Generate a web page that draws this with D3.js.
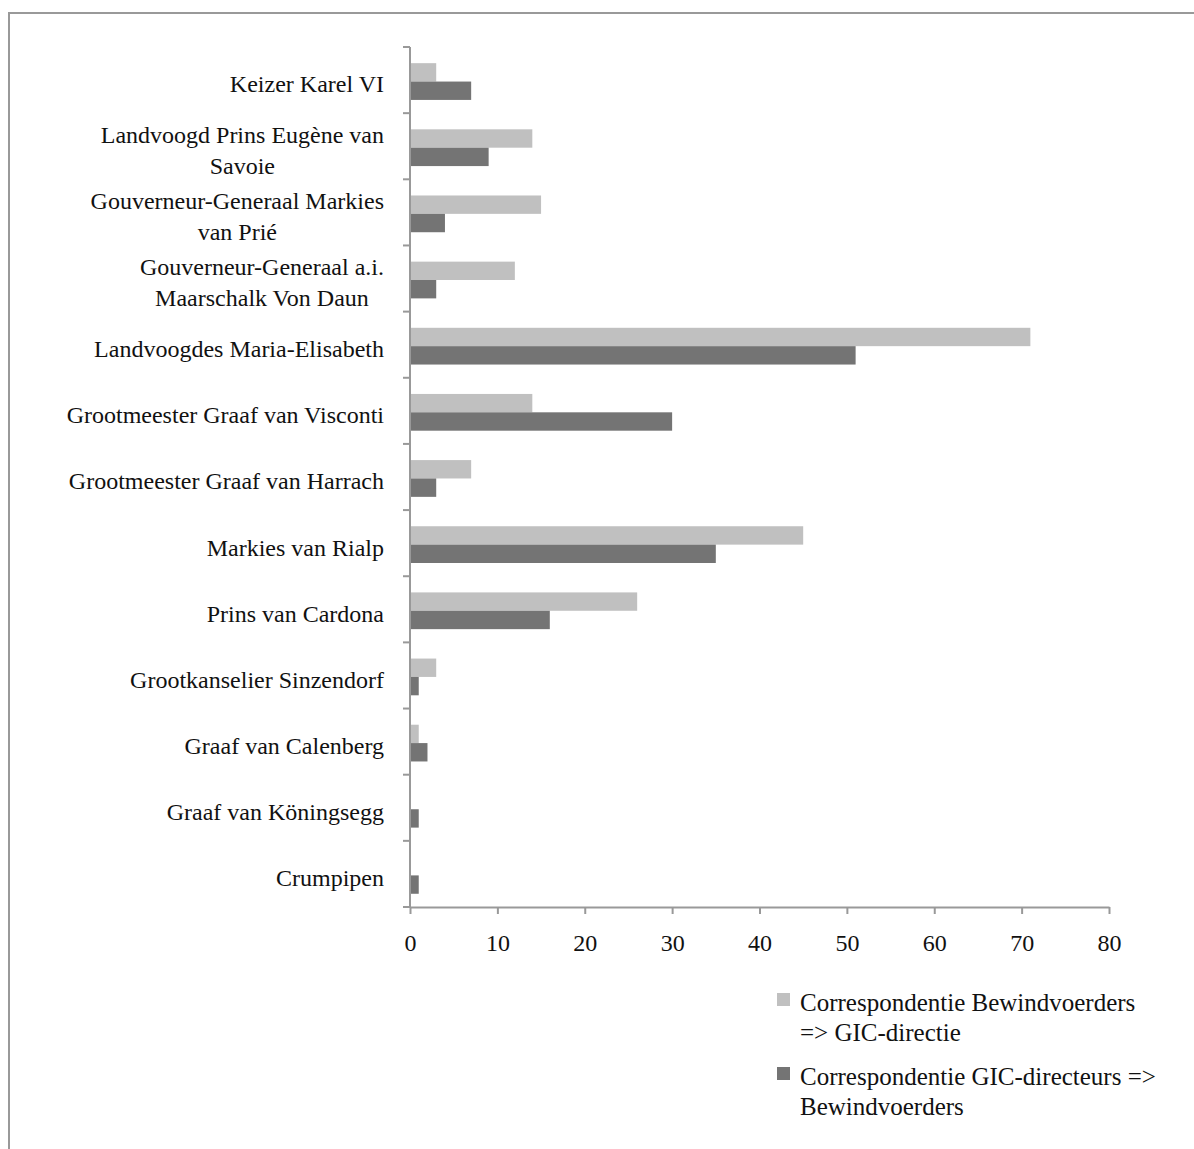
<!DOCTYPE html>
<html>
<head>
<meta charset="utf-8">
<script src="https://cdn.jsdelivr.net/npm/d3@7"></script>
<style>
  body { margin: 0; background: #fff; }
  svg { display: block; }
  text { font-family: "Liberation Serif", "DejaVu Serif", serif; fill: #111; }
</style>
</head>
<body>
<div id="chart"></div>
<script>
const width = 1194;
const height = 1149;

const categories = [
  "Keizer Karel VI",
  "Landvoogd Prins Eugène van Savoie",
  "Gouverneur-Generaal Markies van Prié",
  "Gouverneur-Generaal a.i. Maarschalk Von Daun",
  "Landvoogdes Maria-Elisabeth",
  "Grootmeester Graaf van Visconti",
  "Grootmeester Graaf van Harrach",
  "Markies van Rialp",
  "Prins van Cardona",
  "Grootkanselier Sinzendorf",
  "Graaf van Calenberg",
  "Graaf van Köningsegg",
  "Crumpipen"
];
const seriesNames = [
  "Correspondentie Bewindvoerders => GIC-directie",
  "Correspondentie GIC-directeurs => Bewindvoerders"
];
const bewindNaarDirectie = [3, 14, 15, 12, 71, 14, 7, 45, 26, 3, 1, 0, 0];
const directeurNaarBewind = [7, 9, 4, 3, 51, 30, 3, 35, 16, 1, 2, 1, 1];
const xTicks = [0, 10, 20, 30, 40, 50, 60, 70, 80];

const colors = ["#c0c0c0", "#747474"];
const axisColor = "#999";

const svg = d3.select("#chart")
  .append("svg")
  .attr("width", width)
  .attr("height", height);

// outer frame (only top and left edges are inside the picture)
svg.append("rect")
  .attr("x", 9).attr("y", 13)
  .attr("width", 1300).attr("height", 1300)
  .attr("fill", "none")
  .attr("stroke", axisColor)
  .attr("stroke-width", 2);

const x = d3.scaleLinear().domain([0, 80]).range([410, 1109]);
const y = d3.scaleBand().domain(categories).range([47, 907]).padding(0);
const ySub = d3.scaleBand().domain([0, 1]).range([0, y.bandwidth()])
  .paddingOuter(0.8).align(0.55);

const rows = categories.map((c, i) => ({
  name: c,
  values: [bewindNaarDirectie[i], directeurNaarBewind[i]]
}));

// bars
const groups = svg.append("g")
  .selectAll("g")
  .data(rows)
  .join("g")
  .attr("transform", d => `translate(0,${y(d.name)})`);

groups.selectAll("rect")
  .data(d => d.values.map((v, k) => ({ v, k })))
  .join("rect")
  .attr("x", x(0))
  .attr("y", d => ySub(d.k))
  .attr("height", ySub.bandwidth())
  .attr("width", d => x(d.v) - x(0))
  .attr("fill", d => colors[d.k]);

// y axis
const yAxis = svg.append("g");
yAxis.append("line")
  .attr("x1", x(0)).attr("x2", x(0))
  .attr("y1", 47).attr("y2", 907)
  .attr("stroke", axisColor).attr("stroke-width", 2);
yAxis.selectAll("line.tick")
  .data(d3.range(categories.length + 1))
  .join("line")
  .attr("class", "tick")
  .attr("x1", x(0) - 7).attr("x2", x(0))
  .attr("y1", i => 47 + i * y.step())
  .attr("y2", i => 47 + i * y.step())
  .attr("stroke", axisColor).attr("stroke-width", 2);

const labelSize = 24;

// x axis
const xAxis = svg.append("g")
  .attr("transform", "translate(0,907)")
  .call(d3.axisBottom(x).tickValues(xTicks).tickSize(7).tickSizeOuter(0).tickPadding(20));
xAxis.select(".domain").attr("stroke", axisColor).attr("stroke-width", 2);
xAxis.selectAll(".tick line").attr("stroke", axisColor).attr("stroke-width", 2);
xAxis.selectAll(".tick text")
  .attr("fill", "#111")
  .style("font-family", "'Liberation Serif', serif")
  .style("font-size", labelSize + "px");

// category labels with wrapping
const lineHeight = 31;
const maxLabelWidth = 330;

function wrapWords(text, measure) {
  const words = text.split(" ");
  const lines = [];
  let line = "";
  words.forEach(w => {
    const test = line ? line + " " + w : w;
    if (line && measure(test) > maxLabelWidth) {
      lines.push(line);
      line = w;
    } else {
      line = test;
    }
  });
  if (line) lines.push(line);
  return lines;
}

const measurer = svg.append("text").style("font-size", labelSize + "px");
const measure = s => { measurer.text(s); return measurer.node().getComputedTextLength(); };

const labels = svg.append("g");
categories.forEach(c => {
  const lines = wrapWords(c, measure);
  const cy = y(c) + y.bandwidth() / 2 + 4;
  const t = labels.append("text")
    .attr("text-anchor", "middle")
    .style("font-size", labelSize + "px");
  // centre each label block under its widest line, right aligned at the axis
  const widest = d3.max(lines, measure);
  const cx = x(0) - 26 - widest / 2;
  lines.forEach((ln, j) => {
    t.append("tspan")
      .attr("x", cx)
      .attr("y", cy + (j - (lines.length - 1) / 2) * lineHeight)
      .attr("dy", "0.35em")
      .text(ln);
  });
});
measurer.remove();

// legend
const legendLines = [
  ["Correspondentie Bewindvoerders", "=> GIC-directie"],
  ["Correspondentie GIC-directeurs =>", "Bewindvoerders"]
];
const legend = svg.append("g").attr("transform", "translate(777,993)");
legendLines.forEach((lines, i) => {
  const g = legend.append("g").attr("transform", `translate(0,${i * 74})`);
  g.append("rect")
    .attr("width", 13).attr("height", 13)
    .attr("fill", colors[i]);
  const t = g.append("text").style("font-size", "25px");
  lines.forEach((ln, j) => {
    t.append("tspan")
      .attr("x", 23)
      .attr("y", 9 + j * 30)
      .attr("dy", "0.35em")
      .text(ln);
  });
});
</script>
</body>
</html>
